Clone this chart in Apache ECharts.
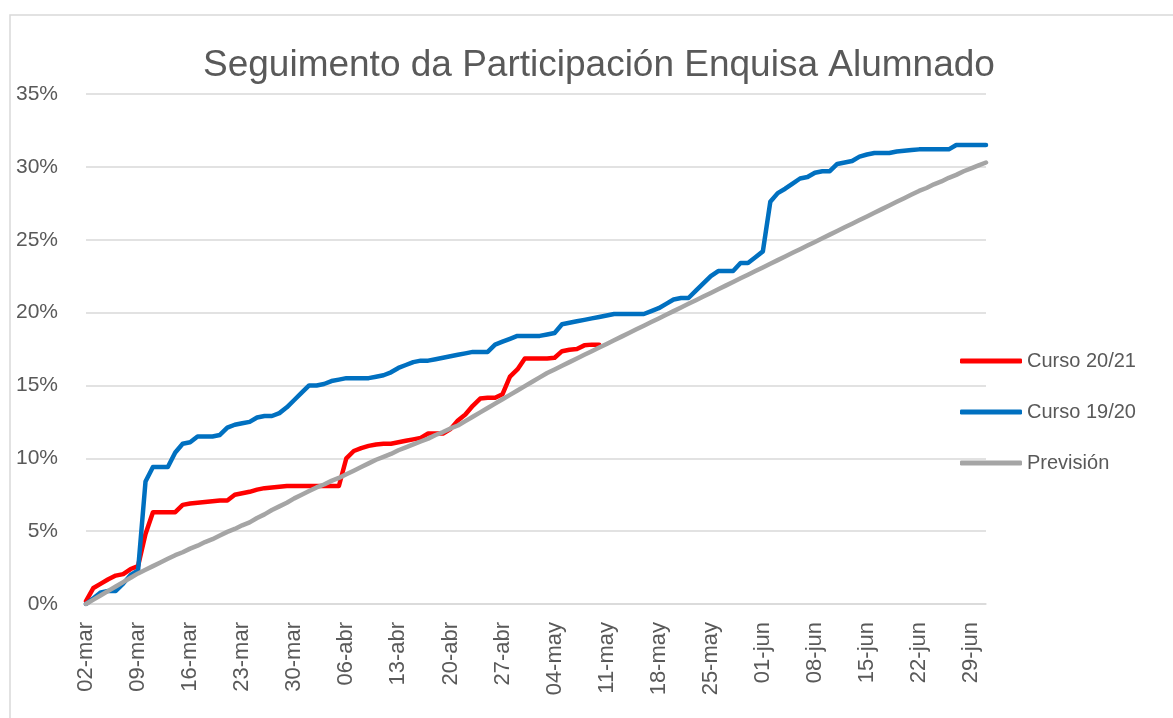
<!DOCTYPE html>
<html>
<head>
<meta charset="utf-8">
<script src="https://cdn.jsdelivr.net/npm/echarts@6/dist/echarts.min.js"></script>
<style>
html,body{margin:0;padding:0;background:#fff;}
#chart{width:1173px;height:718px;}
</style>
</head>
<body>
<div id="chart"></div>
<script>
const titleText = 'Seguimento da Participación Enquisa Alumnado';
const seriesNames = ['Curso 20/21', 'Curso 19/20', 'Previsión'];
const categories = [
'02-mar','03-mar','04-mar','05-mar','06-mar','07-mar','08-mar','09-mar','10-mar','11-mar',
'12-mar','13-mar','14-mar','15-mar','16-mar','17-mar','18-mar','19-mar','20-mar','21-mar',
'22-mar','23-mar','24-mar','25-mar','26-mar','27-mar','28-mar','29-mar','30-mar','31-mar',
'01-abr','02-abr','03-abr','04-abr','05-abr','06-abr','07-abr','08-abr','09-abr','10-abr',
'11-abr','12-abr','13-abr','14-abr','15-abr','16-abr','17-abr','18-abr','19-abr','20-abr',
'21-abr','22-abr','23-abr','24-abr','25-abr','26-abr','27-abr','28-abr','29-abr','30-abr',
'01-may','02-may','03-may','04-may','05-may','06-may','07-may','08-may','09-may','10-may',
'11-may','12-may','13-may','14-may','15-may','16-may','17-may','18-may','19-may','20-may',
'21-may','22-may','23-may','24-may','25-may','26-may','27-may','28-may','29-may','30-may',
'31-may','01-jun','02-jun','03-jun','04-jun','05-jun','06-jun','07-jun','08-jun','09-jun',
'10-jun','11-jun','12-jun','13-jun','14-jun','15-jun','16-jun','17-jun','18-jun','19-jun',
'20-jun','21-jun','22-jun','23-jun','24-jun','25-jun','26-jun','27-jun','28-jun','29-jun',
'30-jun','01-jul'
];
const yTicks = [0, 5, 10, 15, 20, 25, 30, 35];

const curso2021 = [
0.2,1.1,1.4,1.7,1.95,2.05,2.4,2.6,4.8,6.3,
6.3,6.3,6.3,6.8,6.9,6.95,7.0,7.05,7.1,7.1,
7.5,7.6,7.7,7.85,7.95,8.0,8.05,8.1,8.1,8.1,
8.1,8.1,8.1,8.1,8.1,10.0,10.5,10.7,10.85,10.95,
11.0,11.0,11.1,11.2,11.3,11.4,11.7,11.7,11.7,12.0,
12.6,13.0,13.6,14.1,14.15,14.15,14.4,15.6,16.1,16.85,
16.85,16.85,16.85,16.9,17.35,17.45,17.5,17.75,17.8,17.8
];
const curso1920 = [
0.0,0.4,0.8,0.9,0.9,1.4,2.0,2.3,8.4,9.4,
9.4,9.4,10.4,11.0,11.1,11.5,11.5,11.5,11.6,12.1,
12.3,12.4,12.5,12.8,12.9,12.9,13.1,13.5,14.0,14.5,
15.0,15.0,15.1,15.3,15.4,15.5,15.5,15.5,15.5,15.6,
15.7,15.9,16.2,16.4,16.6,16.7,16.7,16.8,16.9,17.0,
17.1,17.2,17.3,17.3,17.3,17.8,18.0,18.2,18.4,18.4,
18.4,18.4,18.5,18.6,19.2,19.3,19.4,19.5,19.6,19.7,
19.8,19.9,19.9,19.9,19.9,19.9,20.1,20.3,20.6,20.9,
21.0,21.0,21.5,22.0,22.5,22.85,22.85,22.85,23.4,23.4,
23.8,24.2,27.6,28.2,28.5,28.85,29.2,29.3,29.6,29.7,
29.7,30.2,30.3,30.4,30.7,30.85,30.95,30.95,30.95,31.05,
31.1,31.15,31.2,31.2,31.2,31.2,31.2,31.5,31.5,31.5,
31.5,31.5
];
const prevision = [
0.0,0.3,0.6,0.9,1.2,1.5,1.8,2.1,2.35,2.6,
2.85,3.1,3.35,3.55,3.8,4.0,4.25,4.45,4.7,4.95,
5.15,5.4,5.6,5.9,6.15,6.45,6.7,6.95,7.25,7.5,
7.75,8.0,8.2,8.45,8.65,8.9,9.15,9.4,9.65,9.9,
10.1,10.3,10.55,10.75,10.95,11.15,11.35,11.6,11.8,12.05,
12.25,12.55,12.85,13.15,13.45,13.75,14.05,14.35,14.65,14.95,
15.25,15.55,15.85,16.1,16.35,16.6,16.85,17.1,17.35,17.6,
17.85,18.1,18.35,18.6,18.85,19.1,19.35,19.6,19.85,20.1,
20.35,20.6,20.85,21.1,21.35,21.6,21.85,22.1,22.35,22.6,
22.85,23.1,23.35,23.6,23.85,24.1,24.35,24.6,24.85,25.1,
25.35,25.6,25.85,26.1,26.35,26.6,26.85,27.1,27.35,27.6,
27.85,28.1,28.35,28.55,28.8,29.0,29.25,29.45,29.7,29.9,
30.1,30.3
];
const colors = ['#FF0000', '#0070C0', '#A5A5A5'];

const chart = echarts.init(document.getElementById('chart'), null, {renderer: 'canvas'});
const font = "'Liberation Sans', Arial, sans-serif";
const txt = '#595959';
chart.setOption({
  animation: false,
  backgroundColor: '#ffffff',
  graphic: [{
    type: 'rect', silent: true, z: -10,
    shape: {x: 10, y: 15, width: 1400, height: 900},
    style: {fill: 'none', stroke: '#D9D9D9', lineWidth: 1.5}
  }],
  title: {
    text: titleText,
    left: 198, top: 42,
    textStyle: {fontFamily: font, fontSize: 37, fontWeight: 'normal', color: txt}
  },
  legend: {
    orient: 'vertical',
    left: 955, top: 344,
    itemWidth: 62, itemHeight: 5, itemGap: 27,
    icon: 'roundRect',
    data: seriesNames,
    textStyle: {fontFamily: font, fontSize: 20, color: txt, lineHeight: 24}
  },
  grid: {left: 86, right: 187, top: 94, bottom: 114, containLabel: false},
  xAxis: {
    type: 'category',
    data: categories,
    boundaryGap: false,
    axisLine: {lineStyle: {color: '#D9D9D9', width: 1.5}},
    axisTick: {show: false},
    axisLabel: {
      interval: function (i) { return i % 7 === 0; },
      rotate: 90, margin: 18, fontFamily: font, fontSize: 22, color: txt
    },
    splitLine: {show: false}
  },
  yAxis: {
    type: 'value',
    min: yTicks[0], max: yTicks[yTicks.length - 1], interval: 5,
    axisLine: {show: false},
    axisTick: {show: false},
    axisLabel: {formatter: '{value}%', margin: 28, fontFamily: font, fontSize: 21, color: txt},
    splitLine: {lineStyle: {color: '#D9D9D9', width: 1.5}}
  },
  series: [
    {name: seriesNames[0], type: 'line', data: curso2021, symbol: 'none', color: colors[0],
     lineStyle: {width: 4.5, color: colors[0], cap: 'round', join: 'round'}},
    {name: seriesNames[1], type: 'line', data: curso1920, symbol: 'none', color: colors[1],
     lineStyle: {width: 4.5, color: colors[1], cap: 'round', join: 'round'}},
    {name: seriesNames[2], type: 'line', data: prevision, symbol: 'none', color: colors[2],
     lineStyle: {width: 4.5, color: colors[2], cap: 'round', join: 'round'}}
  ]
});
</script>
</body>
</html>
